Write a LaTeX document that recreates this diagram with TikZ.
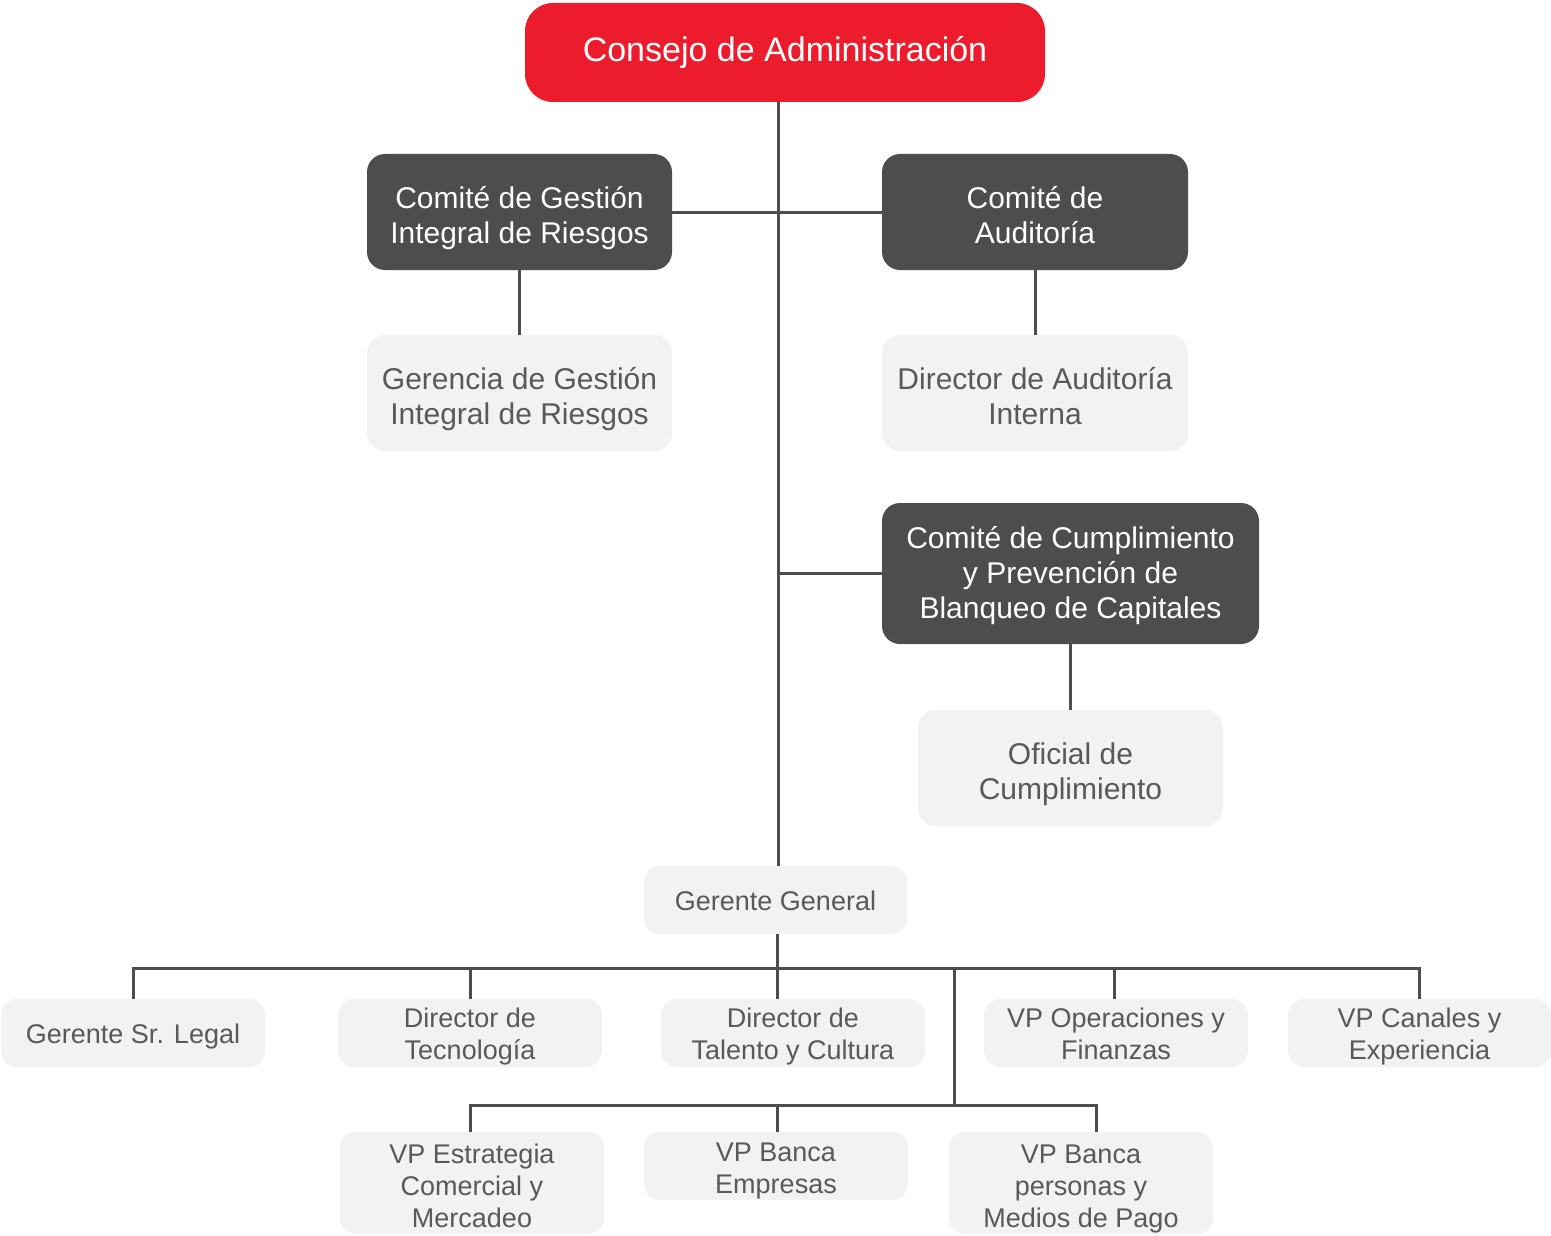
\documentclass[tikz,border=0pt]{standalone}
\usepackage{fontspec}
\setmainfont{Liberation Sans}
\definecolor{cred}{HTML}{EC1C2D}
\definecolor{cdark}{HTML}{4D4D4F}
\definecolor{clight}{HTML}{F2F2F2}
\definecolor{ctext}{HTML}{58595B}
\definecolor{cline}{HTML}{4D4D4F}
\begin{document}
\begin{tikzpicture}[x=1pt,y=-1pt,
  box/.style={inner sep=0pt, align=center, rounded corners=18pt},
  shiftbox/.style={text height=#1pt, text depth=0pt},
  topbox/.style={box, fill=cred, text=white, rounded corners=28pt, font=\fontsize{34}{40}\selectfont},
  darkbox/.style={box, fill=cdark, text=white, font=\fontsize{30}{35}\selectfont, shiftbox=62},
  lightbox/.style={box, fill=clight, text=ctext, font=\fontsize{30}{35}\selectfont, shiftbox=62},
  smallbox/.style={box, fill=clight, text=ctext, rounded corners=16pt, font=\fontsize{27}{32}\selectfont, shiftbox=52},
  link/.style={draw=cline, line width=3pt}
]
\useasboundingbox (0,0) rectangle (1551,1236);

\node[topbox, minimum width=520pt, minimum height=99pt] (cons) at (785,52.5) {Consejo de Administración};
\node[darkbox, minimum width=305pt, minimum height=116pt] (cgir) at (519.5,212) {Comité de Gestión\\Integral de Riesgos};
\node[darkbox, minimum width=306pt, minimum height=116pt] (caud) at (1035,212) {Comité de\\Auditoría};
\node[lightbox, minimum width=305pt, minimum height=116pt] (ggir) at (519.5,393) {Gerencia de Gestión\\Integral de Riesgos};
\node[lightbox, minimum width=306pt, minimum height=116pt] (dai) at (1035,393) {Director de Auditoría\\Interna};
\node[darkbox, shiftbox=89, minimum width=377pt, minimum height=141pt] (ccum) at (1070.5,573.5) {Comité de Cumplimiento\\y Prevención de\\Blanqueo de Capitales};
\node[lightbox, minimum width=305pt, minimum height=116pt] (ofc) at (1070.5,768) {Oficial de\\Cumplimiento};
\node[smallbox, shiftbox=20, minimum width=263pt, minimum height=68pt] (gg) at (775.5,900) {Gerente General};

\node[smallbox, shiftbox=20, minimum width=264pt, minimum height=68pt] (legal) at (133,1033) {Gerente Sr. Legal};
\node[smallbox, minimum width=264pt, minimum height=68pt] (tec) at (470,1033) {Director de\\Tecnología};
\node[smallbox, minimum width=264pt, minimum height=68pt] (tal) at (793,1033) {Director de\\Talento y Cultura};
\node[smallbox, minimum width=264pt, minimum height=68pt] (ope) at (1116,1033) {VP Operaciones y\\Finanzas};
\node[smallbox, minimum width=263pt, minimum height=68pt] (can) at (1419.5,1033) {VP Canales y\\Experiencia};

\node[smallbox, shiftbox=88, minimum width=264pt, minimum height=102pt] (estr) at (472,1183) {VP Estrategia\\Comercial y\\Mercadeo};
\node[smallbox, shiftbox=54, minimum width=264pt, minimum height=68pt] (emp) at (776,1166) {VP Banca\\Empresas};
\node[smallbox, shiftbox=88, minimum width=264pt, minimum height=102pt] (per) at (1081,1183) {VP Banca\\personas y\\Medios de Pago};

\coordinate (spine) at (778,0);
\coordinate (bus1) at (777,968);
\coordinate (j1) at (954,968);
\coordinate (bus2) at (954,1105);

% upper connectors
\draw[link] (spine |- cons.south) -- (spine |- gg.north);
\draw[link] (cgir.east) -- (caud.west);
\draw[link] (cgir.south) -- (ggir.north);
\draw[link] (caud.south) -- (dai.north);
\draw[link] (spine |- ccum.west) -- (ccum.west);
\draw[link] (ccum.south) -- (ccum.south |- ofc.north);

% lower connectors
\draw[link] (bus1 |- gg.south) -- (bus1 |- tal.north);
\draw[link] (legal.north) -- (legal.north |- bus1) -- (can.north |- bus1) -- (can.north);
\draw[link] (tec.north) -- (tec.north |- bus1);
\draw[link] (1114,999) -- (1114,968);
\draw[link] (j1) -- (bus2);
\draw[link] (470,1132) -- (470,1105) -- (1096,1105) -- (1096,1132);
\draw[link] (777,1105) -- (777,1132);
\end{tikzpicture}
\end{document}
